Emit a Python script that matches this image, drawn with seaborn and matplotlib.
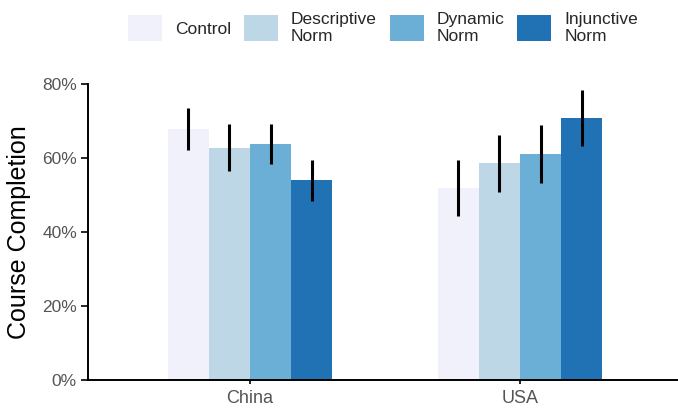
import matplotlib
matplotlib.use("Agg")
import matplotlib.pyplot as plt
import seaborn as sns
import pandas as pd
from matplotlib.ticker import PercentFormatter

countries = ["China", "USA"]
conditions = ["Control", "Descriptive\nNorm", "Dynamic\nNorm", "Injunctive\nNorm"]
china_vals = [67.8, 62.8, 63.8, 54.0]
usa_vals = [51.8, 58.6, 61.0, 70.8]
china_err = [5.7, 6.3, 5.4, 5.5]
usa_err = [7.6, 7.7, 7.8, 7.6]
colors = ["#f0f1fb", "#bdd7e7", "#6baed6", "#2171b5"]

rows = []
for c, vals, errs in [("China", china_vals, china_err), ("USA", usa_vals, usa_err)]:
    for cond, v, e in zip(conditions, vals, errs):
        rows.append({"Country": c, "Condition": cond, "Value": v, "Err": e})
df = pd.DataFrame(rows)

sns.set_theme(style="white")
plt.rcParams["font.family"] = ["Liberation Sans", "DejaVu Sans"]

fig = plt.figure(figsize=(6.78, 4.08), dpi=100)
ax = fig.add_axes([88 / 678, 1 - 380 / 408, (678 - 88) / 678, (380 - 84) / 408])

sns.barplot(data=df, x="Country", y="Value", hue="Condition", order=countries,
            hue_order=conditions, palette=colors, width=0.61, gap=0,
            errorbar=None, saturation=1, linewidth=0, ax=ax, legend=True)

# error bars placed at bar centers
bars = [p for p in ax.patches if p.get_height() > 0]
for p in bars:
    xc = p.get_x() + p.get_width() / 2
    h = p.get_height()
    match = df[(abs(df["Value"] - h) < 1e-9)]
    e = match["Err"].iloc[0]
    ax.plot([xc, xc], [h - e, h + e], color="black", lw=2.2, solid_capstyle="butt")

ax.set_ylim(0, 80)
ax.set_xlim(-0.6, 1.585)
ax.yaxis.set_major_formatter(PercentFormatter(decimals=0))
ax.set_yticks([0, 20, 40, 60, 80])
ax.set_xlabel("")
ax.set_ylabel("Course Completion", fontsize=18, color="black", labelpad=8)
ax.tick_params(axis="y", labelsize=12.5, labelcolor="#555555", length=5,
               width=1.2, color="black", left=True, pad=3)
ax.tick_params(axis="x", labelsize=13, labelcolor="#555555", length=3,
               width=1.2, color="black", bottom=True, pad=4)
for s in ["top", "right"]:
    ax.spines[s].set_visible(False)
for s in ["left", "bottom"]:
    ax.spines[s].set_color("black")
    ax.spines[s].set_linewidth(1.4)

handles, labels = ax.get_legend_handles_labels()
ax.legend(handles, labels, ncol=4, frameon=False, loc="center",
          bbox_to_anchor=(0.5, 1.19), fontsize=12.5, handlelength=1.95,
          handleheight=1.9, handletextpad=0.75, columnspacing=0.75,
          labelspacing=0.2, borderpad=0)

fig.savefig("out.png", dpi=100)
